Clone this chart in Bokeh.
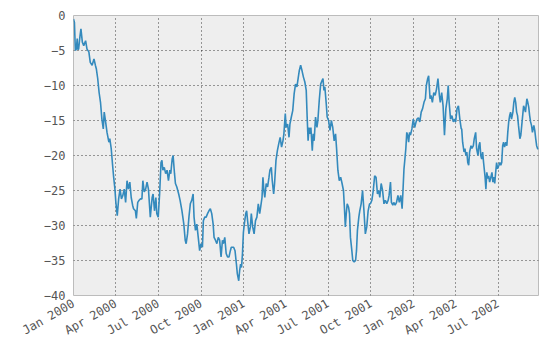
import math
import pandas as pd
from bokeh.plotting import figure
from bokeh.models import ColumnDataSource, Range1d, FixedTicker
from bokeh.embed import file_html
from bokeh.resources import INLINE

start_date = "2000-01-01"
end_date = "2002-09-26"

days_since_start = [
    0, 2, 4, 6, 8, 9, 11, 14, 16, 19, 22, 26, 29, 33, 36, 40, 44, 47, 49, 52,
    55, 58, 61, 64, 66, 69, 72, 76, 78, 81, 84, 86, 89, 91, 94, 97, 100, 103, 106, 109,
    112, 115, 118, 121, 124, 127, 129, 133, 135, 138, 141, 144, 147, 149, 152, 155, 158, 161,
    165, 169, 171, 174, 177, 179, 182, 185, 188, 190, 192, 195, 198, 201, 204, 207, 209, 212,
    214, 217, 219, 222, 226, 229, 233, 237, 240, 242, 245, 248, 251, 254, 257, 259, 262, 265,
    268, 271, 274, 277, 279, 282, 285, 288, 291, 294, 297, 300, 302, 305, 308, 311, 314, 317,
    320, 322, 325, 328, 331, 334, 337, 339,
    341, 344, 347, 350, 352, 355, 357, 359, 361, 363, 365, 367, 370, 372, 374, 377, 380, 382,
    385, 388, 391, 394, 397, 400, 402, 405, 407, 409, 411, 414, 417, 420, 422, 425, 427, 430,
    432, 435, 438, 441, 444, 447, 450, 452, 455, 457, 460, 463, 465, 468, 471, 474, 477, 480,
    483, 485, 488, 491, 494, 497, 500,
    502, 504, 506, 508, 510, 513, 515, 517, 520, 523, 525, 528, 531, 534, 536, 538, 540, 543,
    545, 548, 551, 554, 557, 560, 563, 565, 568, 571, 574, 577, 580, 582, 584, 586, 588, 591,
    593, 595, 598, 600, 603, 606, 608, 610, 613, 615, 618, 621, 624, 627, 630, 633, 636, 638,
    641, 644, 647, 650, 653, 656, 658, 661, 664, 667, 670, 673, 676,
    678, 681, 683, 686, 688, 691, 694, 697, 700, 703, 706, 708, 710, 712, 714, 716, 718, 720,
    722, 724, 727, 730, 733, 736, 738, 741, 744, 747, 750, 753, 756, 758, 761, 763, 766, 768,
    771, 774, 777, 780, 783, 786, 788, 791, 794, 797, 800, 803, 805, 807, 810, 813, 816, 819,
    821, 824, 827, 830, 833,
    834, 836, 839, 841, 843, 845, 847, 849, 851, 854, 856, 859, 861, 864, 866, 869, 871, 873,
    875, 877, 879, 881, 884, 886, 888, 890, 892, 894, 896, 899, 901, 903, 905, 907, 909, 911,
    914, 916, 918, 920, 922, 924, 926, 929, 931, 933, 935, 937, 939, 941, 944, 946, 948, 950,
    952, 954, 956, 959, 961, 963, 965, 967, 969, 971, 974, 976, 978, 980, 982, 984, 986, 989,
    991, 993, 995, 997, 999,
]

cumulative_value = [
    -0.5, -1.0, -5.0, -4.8, -3.3, -4.8, -4.8, -2.9, -1.9, -3.8, -4.3, -3.6, -4.8, -5.2, -6.7, -7.1, -6.2, -7.1, -7.6, -9.0,
    -11.0, -12.4, -14.8, -16.2, -13.8, -15.2, -16.7, -18.1, -17.6, -19.0, -21.4, -22.9, -24.8, -26.7, -28.6, -26.2, -24.8, -26.2, -25.7, -24.8,
    -26.7, -23.6, -24.8, -23.8, -26.0, -27.1, -27.6, -27.9, -29.0, -26.7, -26.4, -26.2, -26.2, -23.6, -25.2, -24.8, -23.8, -24.8,
    -28.8, -26.0, -25.5, -27.9, -26.0, -28.3, -28.8, -25.5, -21.0, -20.7, -22.1, -21.7, -22.6, -22.1, -23.6, -22.1, -22.6, -20.5,
    -20.0, -22.6, -24.0, -24.5, -25.5, -26.4, -27.9, -29.8, -32.1, -32.6, -31.2, -28.8, -26.9, -26.4, -25.5, -28.8, -30.7, -29.8,
    -31.7, -33.6, -32.6, -33.1, -29.3, -28.8, -28.8, -28.3, -27.9, -27.6, -28.3, -29.8, -31.7, -32.1, -32.6, -31.7, -32.1, -34.5,
    -32.1, -32.6, -31.7, -34.0, -34.5, -34.5, -33.6, -33.1,
    -33.1, -33.1, -33.6, -35.5, -36.9, -37.9, -36.4, -35.5, -36.0, -34.0, -31.0, -29.8, -28.3, -27.9, -29.3, -31.2, -30.2, -28.3,
    -30.2, -31.2, -29.3, -28.8, -26.9, -28.3, -27.4, -26.0, -23.1, -25.0, -26.0, -24.0, -24.5, -23.1, -22.1, -21.7, -23.6, -25.5,
    -24.0, -20.7, -19.3, -18.3, -17.4, -18.8, -17.9, -16.9, -14.0, -16.0, -15.5, -17.4, -15.5, -14.5, -13.6, -11.2, -9.8, -10.2,
    -8.8, -7.9, -7.1, -7.9, -8.8, -9.5, -10.7,
    -14.5, -17.9, -16.0, -16.9, -16.0, -19.3, -16.9, -17.9, -14.5, -16.0, -15.0, -12.1, -9.8, -9.3, -9.0, -10.7, -10.2, -12.6,
    -14.5, -15.0, -16.4, -15.0, -16.0, -17.9, -16.9, -18.8, -22.1, -23.6, -23.1, -24.0, -25.0, -27.4, -30.2, -28.3, -26.9, -27.4,
    -28.3, -31.7, -33.6, -35.0, -35.2, -35.0, -33.6, -30.7, -28.8, -27.9, -26.9, -25.0, -27.9, -31.2, -30.2, -27.9, -26.9, -26.9,
    -26.4, -25.0, -22.9, -23.1, -25.5, -25.0, -26.0, -24.0, -25.0, -26.9, -26.4, -26.9, -26.4,
    -25.7, -23.8, -26.7, -27.1, -26.7, -27.1, -26.7, -25.7, -26.7, -25.7, -27.6, -24.8, -21.9, -20.5, -19.0, -16.7, -17.1, -18.1,
    -16.7, -17.1, -16.2, -14.8, -16.0, -15.2, -14.8, -14.6, -15.2, -13.8, -13.3, -12.4, -11.9, -10.0, -9.0, -8.6, -11.9, -11.4,
    -12.4, -11.0, -11.4, -10.5, -9.0, -11.4, -12.4, -11.0, -12.9, -17.1, -13.3, -11.9, -10.0, -12.4, -14.8, -14.3, -15.2, -14.8,
    -15.2, -13.3, -12.9, -14.8, -16.2,
    -16.2, -18.1, -19.5, -19.0, -20.0, -19.5, -21.0, -21.4, -19.5, -18.6, -19.0, -18.6, -17.6, -16.7, -19.0, -20.0, -18.6, -18.1,
    -20.0, -20.5, -19.5, -21.0, -22.9, -24.8, -22.4, -23.3, -22.9, -23.8, -23.3, -22.4, -23.8, -23.1, -24.0, -22.4, -21.0, -21.9,
    -21.4, -21.0, -21.4, -21.0, -18.6, -18.1, -18.8, -18.1, -18.6, -16.7, -15.2, -14.3, -13.8, -14.8, -13.8, -12.4, -11.7, -12.4,
    -13.8, -14.3, -15.7, -17.6, -17.1, -15.7, -14.3, -12.9, -13.3, -13.8, -11.9, -12.4, -13.1, -14.3, -15.2, -15.7, -16.7, -15.7,
    -16.4, -17.6, -18.6, -19.0, -19.1,
]

x_tick_dates = ["2000-01-01", "2000-04-01", "2000-07-01", "2000-10-01", "2001-01-01",
                "2001-04-01", "2001-07-01", "2001-10-01", "2002-01-01", "2002-04-01", "2002-07-01"]
x_tick_labels = ["Jan 2000", "Apr 2000", "Jul 2000", "Oct 2000", "Jan 2001",
                 "Apr 2001", "Jul 2001", "Oct 2001", "Jan 2002", "Apr 2002", "Jul 2002"]
y_ticks = [-40, -35, -30, -25, -20, -15, -10, -5, 0]
y_tick_labels = ["\u221240", "\u221235", "\u221230", "\u221225", "\u221220", "\u221215", "\u221210", "\u22125", "0"]

t0 = pd.Timestamp(start_date)
dates = [t0 + pd.Timedelta(days=d) for d in days_since_start]
src = ColumnDataSource(data=dict(x=dates, y=cumulative_value))

epoch = pd.Timestamp("1970-01-01")
def to_ms(s):
    return float((pd.Timestamp(s) - epoch) / pd.Timedelta(milliseconds=1))

x_tick_ms = [to_ms(d) for d in x_tick_dates]

p = figure(width=540, height=349, x_axis_type="datetime",
           x_range=Range1d(to_ms(start_date), to_ms(end_date)),
           y_range=Range1d(-40, 0),
           output_backend="svg", toolbar_location=None,
           min_border_left=73, min_border_right=2, min_border_top=15, min_border_bottom=54)

p.background_fill_color = "#eeeeee"
p.border_fill_color = "white"
p.outline_line_color = "#bcbcbc"
p.outline_line_width = 1

p.line("x", "y", source=src, line_color="#348ABD", line_width=1.6)

p.xaxis.ticker = FixedTicker(ticks=x_tick_ms)
p.xaxis.major_label_overrides = {ms: lab for ms, lab in zip(x_tick_ms, x_tick_labels)}
p.yaxis.ticker = FixedTicker(ticks=y_ticks)
p.yaxis.major_label_overrides = {v: lab for v, lab in zip(y_ticks, y_tick_labels)}

for ax in (p.xaxis, p.yaxis):
    ax.axis_line_color = None
    ax.major_tick_line_color = None
    ax.minor_tick_line_color = None
    ax.major_tick_in = 0
    ax.major_tick_out = 0
    ax.major_label_text_font = "DejaVu Sans Mono"
    ax.major_label_text_font_size = "12px"
    ax.major_label_text_color = "#555555"

p.yaxis.major_label_standoff = 8
p.xaxis.major_label_standoff = 7
p.xaxis.major_label_orientation = math.pi / 6

for g in (p.xgrid, p.ygrid):
    g.grid_line_color = "black"
    g.grid_line_alpha = 0.75
    g.grid_line_dash = "1 3"
    g.grid_line_width = 1

open("out.html", "w").write(file_html(p, INLINE))
